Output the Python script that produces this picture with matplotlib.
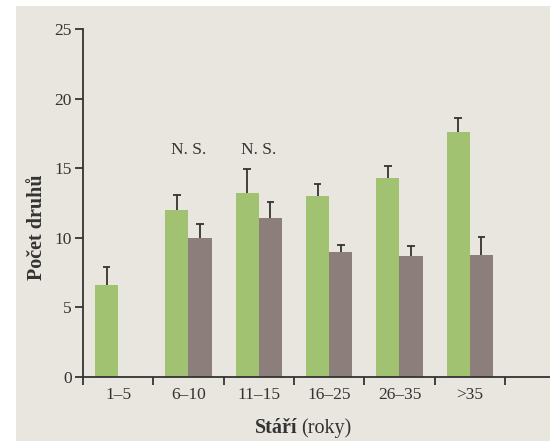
import matplotlib.pyplot as plt
import matplotlib.patches as mpatches
import numpy as np

plt.rcParams['font.family'] = ['Liberation Serif', 'DejaVu Serif']

categories = ['1–5', '6–10', '11–15', '16–25', '26–35', '>35']
green_values = [6.6, 12.0, 13.25, 13.0, 14.3, 17.6]
green_errors = [1.3, 1.1, 1.7, 0.9, 0.9, 1.0]
gray_values = [np.nan, 10.0, 11.45, 9.0, 8.7, 8.8]
gray_errors = [np.nan, 1.0, 1.15, 0.5, 0.7, 1.25]
ns_labels = ['', 'N. S.', 'N. S.', '', '', '']

green = '#A1C270'
gray = '#8C7E7B'
panel = '#E9E6E0'
ink = '#333333'


def upper_error(ax, xs, values, errors, cap=0.055):
    """Kreslí jen horní polovinu chybové úsečky s čepičkou."""
    values = np.asarray(values, dtype=float)
    tops = values + np.asarray(errors, dtype=float)
    ax.vlines(xs, values, tops, color=ink, linewidth=1.3, zorder=3)
    ax.hlines(tops, xs - cap, xs + cap, color=ink, linewidth=1.3, zorder=3)


fig = plt.figure(figsize=(5.5, 4.41), dpi=100)
fig.patch.set_facecolor('white')
fig.patches.append(mpatches.Rectangle((16 / 550, 0), 1 - 16 / 550, 435 / 441,
                                      transform=fig.transFigure,
                                      facecolor=panel, edgecolor='none',
                                      zorder=-10))

ax = fig.add_axes([83 / 550, 64 / 441, 467 / 550, 347.7 / 441])
ax.set_facecolor('none')
ax.set_zorder(1)

x = np.arange(len(categories))
width = 0.33
green_x = x + 0.5 - width / 2
gray_x = x + 0.5 + width / 2
ax.bar(green_x, green_values, width, color=green, zorder=2)
ax.bar(gray_x, gray_values, width, color=gray, zorder=2)
upper_error(ax, green_x, green_values, green_errors)
upper_error(ax, gray_x, gray_values, gray_errors)

for i, label in enumerate(ns_labels):
    if label:
        ax.text(i + 0.5, 16.3, label, ha='center', va='center',
                fontsize=12.5, color=ink)

ax.set_xlim(0, 467 / 70.33)
ax.set_ylim(0, 25)
ax.set_yticks([0, 5, 10, 15, 20, 25])
ax.set_xticks(np.arange(0, 7))
ax.set_xticklabels([])
ax.set_xticks(x + 0.5, minor=True)
ax.set_xticklabels(categories, minor=True)
ax.tick_params(axis='x', which='minor', length=0, pad=7, labelsize=12.5,
               colors=ink)
ax.tick_params(axis='x', which='major', length=6, width=1.3, color=ink)
ax.tick_params(axis='y', length=6, width=1.3, color=ink, labelsize=12.5,
               labelcolor=ink, pad=2)

for side in ['top', 'right']:
    ax.spines[side].set_visible(False)
for side in ['left', 'bottom']:
    ax.spines[side].set_color(ink)
    ax.spines[side].set_linewidth(1.3)

fig.text(37 / 550, 1 - 227 / 441, 'Počet druhů', rotation=90, ha='center',
         va='center', fontsize=14.5, fontweight='bold', color=ink)
fig.text(297 / 550, 1 - 428 / 441, 'Stáří', ha='right', va='center',
         fontsize=14.5, fontweight='bold', color=ink)
fig.text(301 / 550, 1 - 428 / 441, '(roky)', ha='left', va='center',
         fontsize=14.5, color=ink)

fig.savefig('out.png', dpi=100, facecolor=fig.get_facecolor())
